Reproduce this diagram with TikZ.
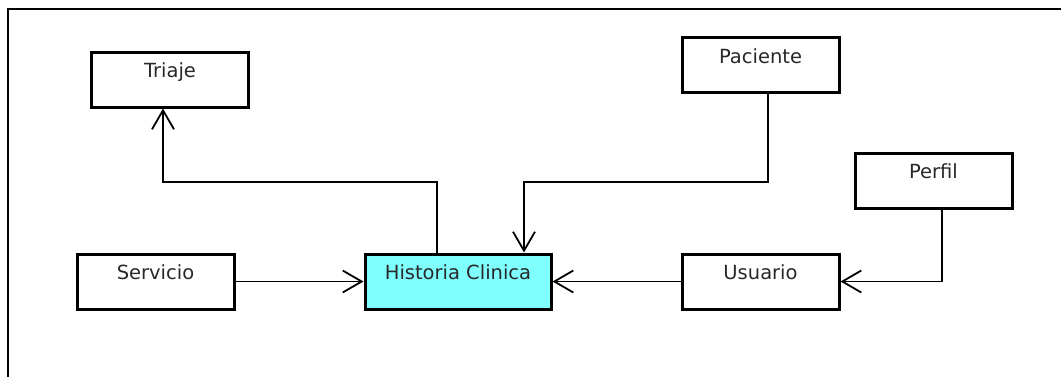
\documentclass[tikz,border=0pt]{standalone}
\usepackage{fontspec}
\setmainfont{DejaVu Sans}
\usetikzlibrary{arrows.meta}
\definecolor{hcfill}{RGB}{128,255,255}
\definecolor{ink}{RGB}{40,40,40}
\begin{document}
\begin{tikzpicture}[x=0.5pt,y=-0.5pt,
  entity/.style={draw=black,line width=1.5pt,rectangle,inner sep=0pt,
    minimum width=78.5pt,text height=12.75pt,text depth=14.75pt,
    font=\fontsize{9.75pt}{11pt}\selectfont,text=ink},
  link/.style={draw=black,line width=0.9pt,
    -{Straight Barb[length=9.5pt,width=11pt,line width=0.9pt]}}]
  \useasboundingbox (0,0) rectangle (1061,377);
  % outer frame (top and left edges)
  \draw[line width=1.1pt] (8,377) -- (8,9) -- (1061,9);
  % entities
  \node[entity] (triaje)   at (170,79.5)   {Triaje};
  \node[entity] (paciente) at (760.5,65)   {Paciente};
  \node[entity] (perfil)   at (933.5,180.5){Perfil};
  \node[entity] (servicio) at (155.5,281.5){Servicio};
  \node[entity] (usuario)  at (760.5,281.5){Usuario};
  \node[entity,fill=hcfill,minimum width=93pt] (hc) at (458,281.5) {Historia Clinica};
  % relations
  \draw[link] ([xshift=-10.5pt]hc.north) -- ([xshift=-10.5pt]hc.north |- 0,182)
     -| ([xshift=-3.5pt]triaje.south);
  \draw[link] ([xshift=3.75pt]paciente.south) -- ([xshift=3.75pt]paciente.south |- 0,182)
     -| ([xshift=33pt]hc.north);
  \draw[link] (servicio.east) -- (hc.west);
  \draw[link] (usuario.west) -- (hc.east);
  \draw[link] ([xshift=4.25pt]perfil.south) |- (usuario.east);
\end{tikzpicture}
\end{document}
